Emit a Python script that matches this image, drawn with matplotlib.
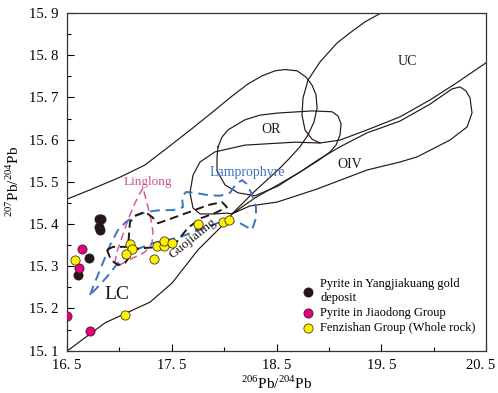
import matplotlib.pyplot as plt
from matplotlib.transforms import ScaledTranslation

plt.rcParams['font.family'] = ['Liberation Serif', 'DejaVu Serif']
plt.rcParams['mathtext.fontset'] = 'custom'
plt.rcParams['mathtext.rm'] = 'Liberation Serif'

# ---- samples ----
yjk_x = [16.805, 16.829, 16.805, 16.815, 16.713, 16.608]
yjk_y = [15.411, 15.411, 15.393, 15.386, 15.319, 15.279]

jd_x = [16.640, 16.617, 16.497, 16.720]
jd_y = [15.341, 15.295, 15.183, 15.147]

fzs_x = [16.576, 17.054, 17.101, 17.118, 17.060, 17.331, 17.364, 17.429, 17.429,
         17.505, 17.746, 17.986, 18.042]
fzs_y = [15.314, 15.185, 15.353, 15.342, 15.330, 15.318, 15.348, 15.349, 15.359,
         15.355, 15.401, 15.406, 15.410]

# ---- reference curves (solid) ----
# outer envelope: upper curve -> arc -> down to LC lower boundary
env_x = [16.500, 16.720, 17.006, 17.245, 17.455, 17.703, 17.913, 18.075, 18.228, 18.362,
         18.486, 18.581, 18.696, 18.782, 18.839, 18.877, 18.887, 18.858, 18.801, 18.724,
         18.629, 18.514, 18.390, 18.276, 18.075, 18.018, 17.751, 17.502, 17.292, 16.863,
         16.500]
env_y = [15.459, 15.481, 15.511, 15.540, 15.580, 15.628, 15.670, 15.703, 15.732, 15.751,
         15.763, 15.766, 15.763, 15.748, 15.729, 15.706, 15.675, 15.642, 15.611, 15.583,
         15.557, 15.528, 15.500, 15.474, 15.424, 15.405, 15.339, 15.260, 15.215, 15.166,
         15.099]

# UC left boundary running into the upper line to the right border
uc_x = [19.498, 19.345, 19.202, 19.078, 18.915, 18.801, 18.753, 18.743, 18.772, 18.839,
        18.915, 19.106, 19.364, 19.679, 19.965, 20.204, 20.500]
uc_y = [15.900, 15.879, 15.853, 15.829, 15.784, 15.741, 15.699, 15.658, 15.623, 15.601,
        15.592, 15.599, 15.623, 15.654, 15.694, 15.732, 15.782]

# long loop on the left of OR
lp_x = [18.915, 18.677, 18.199, 17.913, 17.770, 17.703, 17.674, 17.703, 17.770, 17.913,
        18.027, 18.075]
lp_y = [15.592, 15.594, 15.587, 15.571, 15.547, 15.516, 15.474, 15.438, 15.424, 15.424,
        15.426, 15.424]

# OIV field
oiv_x = [18.075, 18.295, 18.514, 18.724, 18.896, 19.106, 19.364, 19.679, 19.965, 20.175,
         20.252, 20.309, 20.347, 20.366, 20.319, 20.156, 19.841, 19.679, 19.364, 18.887,
         18.505, 18.247, 18.075]
oiv_y = [15.424, 15.462, 15.493, 15.523, 15.552, 15.583, 15.616, 15.644, 15.684, 15.720,
         15.725, 15.715, 15.699, 15.663, 15.630, 15.599, 15.559, 15.547, 15.528, 15.483,
         15.452, 15.443, 15.424]

# OR field
or_x = [17.942, 17.980, 18.037, 18.199, 18.342, 18.514, 18.839, 19.030, 19.087, 19.116,
        19.106, 19.068, 19.011, 18.896, 18.677, 18.514, 18.295, 18.132, 18.008, 17.932,
        17.932, 17.942]
or_y = [15.583, 15.606, 15.623, 15.647, 15.658, 15.663, 15.668, 15.666, 15.656, 15.637,
        15.611, 15.587, 15.571, 15.550, 15.516, 15.490, 15.467, 15.474, 15.493, 15.526,
        15.559, 15.583]

# ---- sample fields (dashed) ----
yjk_fx = [16.882, 16.939, 17.082, 17.092, 17.101, 17.159, 17.245, 17.311, 17.369, 17.483,
          17.674, 17.846, 17.980, 18.027, 17.913, 17.780, 17.655, 17.531, 17.388, 17.226,
          17.130, 17.101, 17.054, 16.987, 16.920, 16.882]
yjk_fy = [15.339, 15.346, 15.346, 15.374, 15.405, 15.421, 15.429, 15.417, 15.402, 15.412,
          15.429, 15.445, 15.452, 15.440, 15.426, 15.414, 15.391, 15.353, 15.346, 15.343,
          15.341, 15.324, 15.308, 15.303, 15.315, 15.339]

ll_x = [17.226, 17.187, 17.140, 17.082, 17.025, 16.977, 16.958, 16.987, 17.054, 17.149,
        17.245, 17.311, 17.321, 17.302, 17.273, 17.245, 17.226]
ll_y = [15.485, 15.469, 15.445, 15.410, 15.369, 15.334, 15.310, 15.301, 15.310, 15.322,
        15.334, 15.353, 15.381, 15.410, 15.440, 15.467, 15.485]

lam_x = [16.720, 16.748, 16.815, 16.911, 16.987, 17.063, 17.149, 17.264, 17.388, 17.512,
         17.607, 17.598, 17.636, 17.722, 17.837, 17.961, 18.056, 18.113, 18.171, 18.218,
         18.266, 18.304, 18.304, 18.266, 18.218, 18.152, 18.056, 17.932, 17.837, 17.703,
         17.579, 17.455, 17.321, 17.197, 17.101, 16.987, 16.882, 16.786, 16.720]
lam_y = [15.232, 15.251, 15.291, 15.350, 15.386, 15.405, 15.419, 15.429, 15.433, 15.433,
         15.440, 15.464, 15.476, 15.474, 15.469, 15.467, 15.474, 15.495, 15.504, 15.495,
         15.469, 15.440, 15.414, 15.386, 15.393, 15.402, 15.407, 15.402, 15.393, 15.381,
         15.369, 15.362, 15.355, 15.343, 15.331, 15.308, 15.275, 15.249, 15.232]

xticks = [16.5, 17.5, 18.5, 19.5, 20.5]
xticklabels = ['16. 5', '17. 5', '18. 5', '19. 5', '20. 5']
yticks = [15.1, 15.2, 15.3, 15.4, 15.5, 15.6, 15.7, 15.8, 15.9]
yticklabels = ['15. 1', '15. 2', '15. 3', '15. 4', '15. 5', '15. 6', '15. 7', '15. 8', '15. 9']

line_c = '#231815'

fig = plt.figure(figsize=(4.98, 3.93), dpi=100)
ax = fig.add_axes([0.1345, 0.1076, 0.8415, 0.8594])

for xs, ys in [(env_x, env_y), (uc_x, uc_y), (lp_x, lp_y), (oiv_x, oiv_y), (or_x, or_y)]:
    ax.plot(xs, ys, color=line_c, lw=0.85, zorder=2)

ax.plot(ll_x, ll_y, color='#d5579f', lw=1.1, dashes=(5, 3), zorder=3)
ax.plot(lam_x, lam_y, color='#3a72c4', lw=1.4, dashes=(5, 3), zorder=3)
ax.plot(yjk_fx, yjk_fy, color=line_c, lw=1.4, dashes=(4.5, 2.5), zorder=3)

ax.scatter(yjk_x, yjk_y, s=44, c=line_c, edgecolors=line_c, linewidths=0.5, zorder=5,
           label='Pyrite in Yangjiakuang gold\ndeposit')
ax.scatter(jd_x, jd_y, s=44, c='#e4007f', edgecolors=line_c, linewidths=0.5, zorder=5,
           label='Pyrite in Jiaodong Group')
ax.scatter(fzs_x, fzs_y, s=44, c='#fff100', edgecolors=line_c, linewidths=0.5, zorder=5,
           label='Fenzishan Group (Whole rock)')

# field labels
ax.text(19.746, 15.784, 'UC', fontsize=10, ha='center', va='center', color=line_c)
ax.text(18.447, 15.625, 'OR', fontsize=10, ha='center', va='center', color=line_c)
ax.text(19.202, 15.542, 'OIV', fontsize=10, ha='center', va='center', color=line_c)
ax.text(16.977, 15.234, 'LC', fontsize=14, ha='center', va='center', color=line_c)
ax.text(17.703, 15.367, 'Guojialing', fontsize=9.5, ha='center', va='center',
        rotation=39, color=line_c)
ax.text(17.273, 15.500, 'Linglong', fontsize=9.5, ha='center', va='center', color='#c9509b')
ax.text(18.218, 15.523, 'Lamprophyre', fontsize=10, ha='center', va='center', color='#3a72c4')

ax.set_xlim(16.5, 20.5)
ax.set_ylim(15.1, 15.9)
ax.set_xticks(xticks)
ax.set_xticklabels(xticklabels)
ax.set_yticks(yticks)
ax.set_yticklabels(yticklabels)
ax.set_xticks([17.0, 18.0, 19.0, 20.0], minor=True)
ax.set_yticks([15.15, 15.25, 15.35, 15.45, 15.55, 15.65, 15.75, 15.85], minor=True)
ax.tick_params(which='both', direction='in', top=False, right=False, labelsize=10.5, pad=6)
ax.tick_params(which='major', length=5, width=0.8)
ax.tick_params(which='minor', length=3, width=0.8)
for sp in ax.spines.values():
    sp.set_linewidth(0.9)
    sp.set_color('#333333')

# last x label sits right at the figure edge, nudge it left a little
last_lbl = ax.get_xticklabels()[-1]
last_lbl.set_transform(last_lbl.get_transform() + ScaledTranslation(-4 / 72, 0, fig.dpi_scale_trans))

ax.set_xlabel(r'$^{206}$Pb/$^{204}$Pb', fontsize=11, labelpad=2)
ax.set_ylabel(r'$^{207}$Pb/$^{204}$Pb', fontsize=11, labelpad=5)

ax.legend(loc='lower right', bbox_to_anchor=(0.99, 0.03), frameon=False, fontsize=9,
          handletextpad=0.4, labelspacing=0.25, borderpad=0, handlelength=1.2,
          markerscale=1.0)

fig.savefig('out.png', dpi=100)
